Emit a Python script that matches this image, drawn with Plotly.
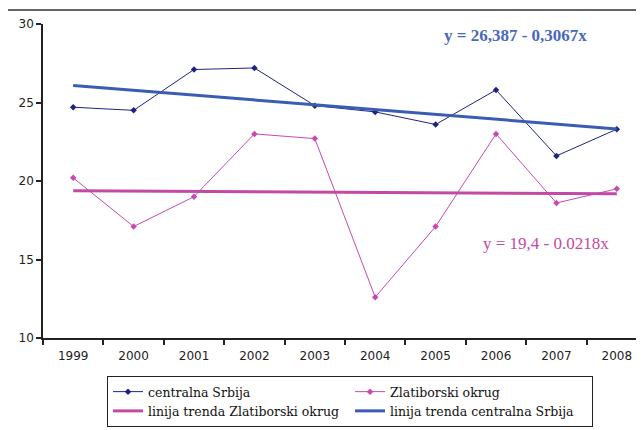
import plotly.graph_objects as go

years = [1999, 2000, 2001, 2002, 2003, 2004, 2005, 2006, 2007, 2008]
year_labels = [str(y) for y in years]
centralna = [24.7, 24.5, 27.1, 27.2, 24.8, 24.4, 23.6, 25.8, 21.6, 23.3]
zlatiborski = [20.2, 17.1, 19.0, 23.0, 22.7, 12.6, 17.1, 23.0, 18.6, 19.5]
trend_zlat = [19.38, 19.36, 19.33, 19.31, 19.29, 19.27, 19.25, 19.23, 19.2, 19.18]
trend_centr = [26.08, 25.77, 25.47, 25.16, 24.85, 24.55, 24.24, 23.93, 23.63, 23.32]
y_ticks = [10, 15, 20, 25, 30]

# the page body has an 8px margin, so the figure is offset by 8px
OFF = 8
W, H = 644 - OFF, 430 - OFF
ML, MR, MT, MB = 43 - OFF, 0, 24 - OFF, 92
pw = W - ML - MR
ph = H - MT - MB

def px_x(p):
    return (p - OFF - ML) / pw

def px_y(p):
    return 1 - (p - OFF - MT) / ph

fig = go.Figure()
fig.add_trace(go.Scatter(x=years, y=centralna, name="centralna Srbija", mode="lines+markers",
                         line=dict(color="#1f2380", width=1),
                         marker=dict(symbol="diamond", size=5, color="#1f2380")))
fig.add_trace(go.Scatter(x=years, y=zlatiborski, name="Zlatiborski okrug", mode="lines+markers",
                         line=dict(color="#c84aae", width=1),
                         marker=dict(symbol="diamond", size=5, color="#c84aae")))
fig.add_trace(go.Scatter(x=years, y=trend_zlat, name="linija trenda Zlatiborski okrug", mode="lines",
                         line=dict(color="#c24aa6", width=3)))
fig.add_trace(go.Scatter(x=years, y=trend_centr, name="linija trenda centralna Srbija", mode="lines",
                         line=dict(color="#3a5cb4", width=3)))

fig.update_layout(
    width=W, height=H,
    margin=dict(l=ML, r=MR, t=MT, b=MB, autoexpand=False),
    paper_bgcolor="white", plot_bgcolor="white",
    font=dict(family="DejaVu Sans", size=12, color="#222"),
    xaxis=dict(range=[1998.5, 2008.45], tickvals=years, ticktext=year_labels,
               ticks="", showgrid=False, zeroline=False, showline=True,
               linecolor="#222", linewidth=1.5, ticklabelstandoff=6,
               tickfont=dict(family="DejaVu Sans", size=12, color="#222"),
               minor=dict(tick0=1998.5, dtick=1, ticks="outside", ticklen=5,
                          tickcolor="#222", tickwidth=1.5, showgrid=False)),
    yaxis=dict(range=[10, 30], tickvals=y_ticks, ticks="outside", ticklen=5,
               tickcolor="#222", tickwidth=1.5, showgrid=False, zeroline=False,
               showline=True, linecolor="#222", linewidth=1.5,
               tickfont=dict(family="DejaVu Sans", size=12, color="#222")),
    legend=dict(orientation="h", x=px_x(107), y=px_y(376), xanchor="left", yanchor="top",
                entrywidth=197, bordercolor="#222", borderwidth=1,
                font=dict(family="DejaVu Serif", size=12.5, color="#111"),
                traceorder="normal", itemwidth=30, tracegroupgap=0),
    showlegend=True,
)

fig.add_annotation(text="<b>y = 26,387 - 0,3067x</b>", x=px_x(515), y=px_y(36), xref="paper", yref="paper",
                   xanchor="center", yanchor="middle", showarrow=False,
                   font=dict(family="Liberation Serif", size=17, color="#4a68bd"))
fig.add_annotation(text="y = 19,4 - 0.0218x", x=px_x(546), y=px_y(243), xref="paper", yref="paper",
                   xanchor="center", yanchor="middle", showarrow=False,
                   font=dict(family="Liberation Serif", size=17, color="#c24aa6"))

fig.add_shape(type="rect", xref="paper", yref="paper",
              x0=px_x(7), x1=px_x(700), y0=px_y(500), y1=px_y(10),
              line=dict(color="#333", width=1.5), fillcolor="rgba(0,0,0,0)", layer="below")

fig.write_html("out.html")
